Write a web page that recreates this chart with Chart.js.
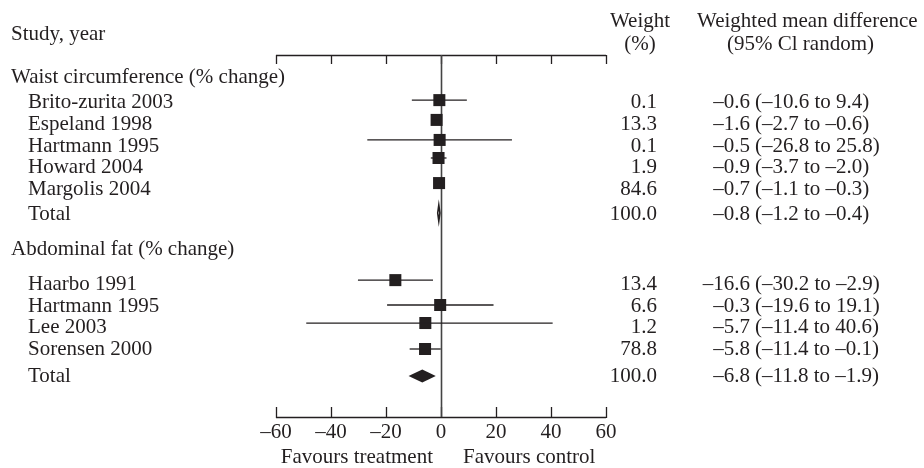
<!DOCTYPE html>
<html><head><meta charset="utf-8">
<script src="https://cdn.jsdelivr.net/npm/chart.js@4.4.1/dist/chart.umd.min.js"></script>
<style>html,body{margin:0;padding:0;background:#fff}#wrap{width:924px;height:468px}</style>
</head><body><div id="wrap"><canvas id="c" width="924" height="468"></canvas></div>
<script>
// ---------- data ----------
const groups = ['Waist circumference (% change)', 'Abdominal fat (% change)'];
const studies = ['Brito-zurita 2003','Espeland 1998','Hartmann 1995','Howard 2004','Margolis 2004','Total',
                 'Haarbo 1991','Hartmann 1995','Lee 2003','Sorensen 2000','Total'];
const isTotal = [false,false,false,false,false,true,false,false,false,false,true];
const estimates = [-0.6,-1.6,-0.5,-0.9,-0.7,-0.8,-16.6,-0.3,-5.7,-5.8,-6.8];
const ciLower   = [-10.6,-2.7,-26.8,-3.7,-1.1,-1.2,-30.2,-19.6,-49.0,-11.4,-11.8];
const ciUpper   = [9.4,-0.6,25.8,2.0,-0.3,-0.4,-2.9,19.1,40.6,-0.1,-1.9];
const weightLabels = ['0.1','13.3','0.1','1.9','84.6','100.0','13.4','6.6','1.2','78.8','100.0'];
const estLabels = ['–0.6','–1.6','–0.5','–0.9','–0.7','–0.8','–16.6','–0.3','–5.7','–5.8','–6.8'];
const ciLabels  = ['(–10.6 to 9.4)','(–2.7 to –0.6)','(–26.8 to 25.8)','(–3.7 to –2.0)','(–1.1 to –0.3)','(–1.2 to –0.4)',
                   '(–30.2 to –2.9)','(–19.6 to 19.1)','(–11.4 to 40.6)','(–11.4 to –0.1)','(–11.8 to –1.9)'];
const xTicks = [-60,-40,-20,0,20,40,60];

// ---------- layout (row units) ----------
const markRow  = [2.05,2.95,3.86,4.68,5.82,7.18,10.23,11.36,12.18,13.36,14.59];
const textRow  = [2.1,3.1,4.1,5.05,6.05,7.18,10.36,11.36,12.32,13.32,14.55];
const groupRow = [0.95,8.77];
const diamondHalf = [0,0,0,0,0,8,0,0,0,0,6.5];

const INK = '#231f20';
const FONT = '21px "Liberation Serif", "Times New Roman", serif';

const datasets = [];
studies.forEach((s,i)=>{
  if (isTotal[i]) return;
  datasets.push({data:[{x:ciLower[i],y:markRow[i]},{x:ciUpper[i],y:markRow[i]}],
    showLine:true, pointRadius:0, borderColor:INK, borderWidth:1.3});
});
datasets.push({
  data: studies.map((s,i)=>({x:estimates[i],y:markRow[i]})).filter((p,i)=>!isTotal[i]),
  pointStyle:'rect', pointRadius:8.5, backgroundColor:INK, borderWidth:0, showLine:false
});

const forest = {
  id:'forest',
  beforeDatasetsDraw(chart){
    const {ctx, chartArea:a, scales:{x}} = chart;
    ctx.save();
    ctx.strokeStyle = INK; ctx.lineWidth = 1.3;
    ctx.beginPath();
    ctx.moveTo(a.left, a.top+0.5); ctx.lineTo(a.right, a.top+0.5);
    ctx.moveTo(a.left, a.bottom+0.5); ctx.lineTo(a.right, a.bottom+0.5);
    xTicks.forEach(v=>{
      const px = Math.round(x.getPixelForValue(v))+0.5;
      ctx.moveTo(px, a.top); ctx.lineTo(px, a.top+9);
      ctx.moveTo(px, a.bottom+1); ctx.lineTo(px, a.bottom-10);
    });
    ctx.stroke();
    const x0 = Math.round(x.getPixelForValue(0))+0.5;
    ctx.strokeStyle = '#444'; ctx.lineWidth = 1.6;
    ctx.beginPath(); ctx.moveTo(x0, a.top); ctx.lineTo(x0, a.bottom); ctx.stroke();
    ctx.restore();
  },
  afterDatasetsDraw(chart){
    const {ctx, scales:{x,y}} = chart;
    ctx.save();
    // diamonds
    studies.forEach((s,i)=>{
      if (!isTotal[i]) return;
      const cy = y.getPixelForValue(markRow[i]), h = diamondHalf[i];
      const l = x.getPixelForValue(ciLower[i]), c = x.getPixelForValue(estimates[i]), r = x.getPixelForValue(ciUpper[i]);
      ctx.beginPath();
      ctx.moveTo(l, cy); ctx.lineTo(c, cy-h); ctx.lineTo(r, cy); ctx.lineTo(c, cy+h); ctx.closePath();
      if (i === 5) { ctx.fillStyle='#fff'; ctx.fill(); ctx.strokeStyle=INK; ctx.lineWidth=1.6; ctx.stroke(); }
      else { ctx.fillStyle=INK; ctx.fill(); }
    });
    // texts
    ctx.fillStyle = INK; ctx.font = FONT; ctx.textBaseline = 'alphabetic';
    const by = r => y.getPixelForValue(r) + 7;
    ctx.textAlign = 'left';
    ctx.fillText('Study, year', 11, by(-1.0));
    groups.forEach((g,k)=>ctx.fillText(g, 11, by(groupRow[k])));
    studies.forEach((s,i)=>ctx.fillText(s, 28, by(textRow[i])));
    ctx.fillText('Weighted mean difference', 697, by(-1.59));
    ctx.fillText('(95% Cl random)', 727, by(-0.55));
    studies.forEach((s,i)=>ctx.fillText(ciLabels[i], 755, by(textRow[i])));
    ctx.textAlign = 'center';
    ctx.fillText('Weight', 640, by(-1.59));
    ctx.fillText('(%)', 640, by(-0.55));
    ctx.textAlign = 'right';
    studies.forEach((s,i)=>ctx.fillText(weightLabels[i], 657, by(textRow[i])));
    studies.forEach((s,i)=>ctx.fillText(estLabels[i], 750, by(textRow[i])));
    const x0 = x.getPixelForValue(0);
    ctx.fillText('Favours treatment', x0-8, by(18.23));
    ctx.textAlign = 'left';
    ctx.fillText('Favours control', x0+22, by(18.23));
    ctx.restore();
  }
};

new Chart(document.getElementById('c'), {
  type:'scatter',
  data:{datasets},
  options:{
    responsive:false, animation:false,
    layout:{padding:{left:276, right:318, top:55, bottom:0}},
    plugins:{legend:{display:false}, tooltip:{enabled:false}},
    scales:{
      x:{type:'linear', min:-60, max:60, position:'bottom',
         afterFit:s=>{s.height=51;},
         afterBuildTicks:s=>{s.ticks = xTicks.map(v=>({value:v}));},
         grid:{display:false, drawTicks:false}, border:{display:false},
         ticks:{padding:3, color:INK, font:{family:'"Liberation Serif", "Times New Roman", serif', size:21},
                callback:v=> String(v).replace('-', '–')}},
      y:{type:'linear', display:false, min:0, max:16.45, reverse:true}
    }
  },
  plugins:[forest]
});
</script></body></html>
